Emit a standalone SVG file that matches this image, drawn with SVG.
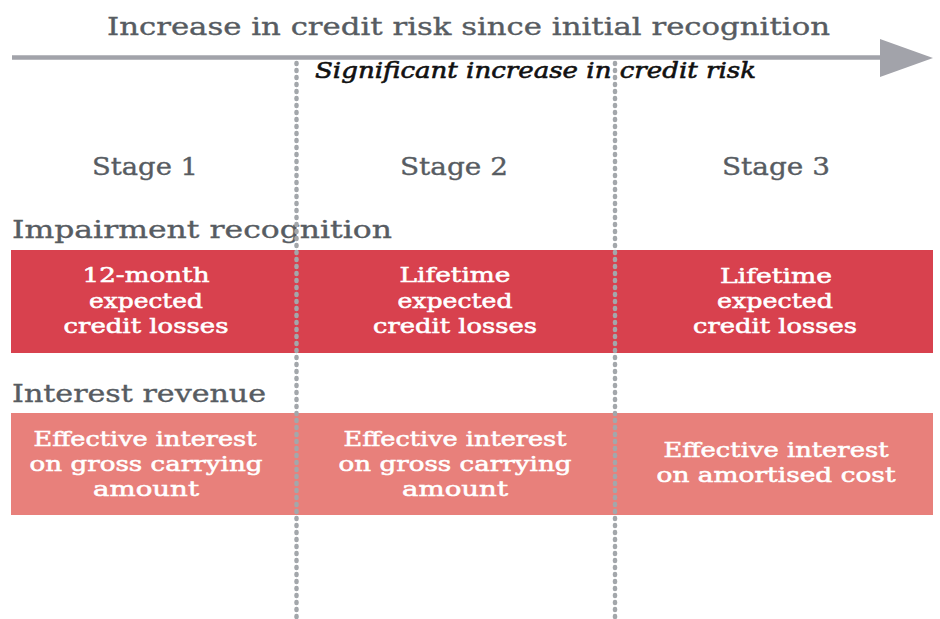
<svg xmlns="http://www.w3.org/2000/svg" width="940" height="619" viewBox="0 0 940 619">
<defs>
<style>
.t{font-family:"DejaVu Serif","Liberation Serif",serif;}
.gray{fill:#575c62;stroke:#575c62;stroke-width:0.35;font-size:24.5px;}
.stage{fill:#575c62;stroke:#575c62;stroke-width:0.35;font-size:25px;text-anchor:middle;}
.sig{fill:#111;stroke:#111;stroke-width:0.6;font-size:22px;font-style:italic;}
.w{fill:#fff;stroke:#fff;stroke-width:0.55;font-size:20.5px;text-anchor:middle;}
.red{fill:#d8414e;}
.pink{fill:#e8807b;}
.div{stroke:#a3a7ab;stroke-width:4.5;stroke-dasharray:1 6;stroke-linecap:round;fill:none;}
</style>
</defs>
<rect width="940" height="619" fill="#fff"/>
<g id="title">
<text class="t gray" x="107" y="35" textLength="723" lengthAdjust="spacingAndGlyphs">Increase in credit risk since initial recognition</text>
</g>
<g id="stage1-label"><text class="t stage" x="145" y="175" textLength="106" lengthAdjust="spacingAndGlyphs">Stage 1</text></g>
<g id="stage2-label"><text class="t stage" x="454" y="175" textLength="108" lengthAdjust="spacingAndGlyphs">Stage 2</text></g>
<g id="stage3-label"><text class="t stage" x="776" y="175" textLength="108" lengthAdjust="spacingAndGlyphs">Stage 3</text></g>
<g id="impairment-label"><text class="t gray" x="12" y="238" textLength="380" lengthAdjust="spacingAndGlyphs">Impairment recognition</text></g>
<g id="interest-label"><text class="t gray" x="12" y="402" textLength="254" lengthAdjust="spacingAndGlyphs">Interest revenue</text></g>
<g id="impairment-row">
<rect class="red" x="11" y="250" width="922" height="103"/>
<text class="t w" x="146" y="282" textLength="127" lengthAdjust="spacingAndGlyphs">12-month</text>
<text class="t w" x="146" y="308" textLength="114" lengthAdjust="spacingAndGlyphs">expected</text>
<text class="t w" x="146" y="333" textLength="165" lengthAdjust="spacingAndGlyphs">credit losses</text>
<text class="t w" x="455" y="282" textLength="111" lengthAdjust="spacingAndGlyphs">Lifetime</text>
<text class="t w" x="455" y="308" textLength="115" lengthAdjust="spacingAndGlyphs">expected</text>
<text class="t w" x="455" y="333" textLength="164" lengthAdjust="spacingAndGlyphs">credit losses</text>
<text class="t w" x="776" y="283" textLength="112" lengthAdjust="spacingAndGlyphs">Lifetime</text>
<text class="t w" x="775" y="308" textLength="116" lengthAdjust="spacingAndGlyphs">expected</text>
<text class="t w" x="775" y="333" textLength="164" lengthAdjust="spacingAndGlyphs">credit losses</text>
</g>
<g id="interest-row">
<rect class="pink" x="11" y="413" width="922" height="102"/>
<text class="t w" x="145" y="446" textLength="223" lengthAdjust="spacingAndGlyphs">Effective interest</text>
<text class="t w" x="146" y="471" textLength="233" lengthAdjust="spacingAndGlyphs">on gross carrying</text>
<text class="t w" x="146" y="496" textLength="106" lengthAdjust="spacingAndGlyphs">amount</text>
<text class="t w" x="455" y="446" textLength="223" lengthAdjust="spacingAndGlyphs">Effective interest</text>
<text class="t w" x="455" y="471" textLength="233" lengthAdjust="spacingAndGlyphs">on gross carrying</text>
<text class="t w" x="455" y="496" textLength="106" lengthAdjust="spacingAndGlyphs">amount</text>
<text class="t w" x="776" y="457" textLength="225" lengthAdjust="spacingAndGlyphs">Effective interest</text>
<text class="t w" x="776" y="482" textLength="239" lengthAdjust="spacingAndGlyphs">on amortised cost</text>
</g>
<g id="connectors">
<line x1="12" y1="57.5" x2="884" y2="57.5" stroke="#a2a3aa" stroke-width="4.5"/>
<polygon points="880,39 933,58 880,77" fill="#a2a3aa"/>
<line class="div" x1="296.5" y1="63" x2="296.5" y2="619"/>
<line class="div" x1="615" y1="63" x2="615" y2="619"/>
</g>
<g id="threshold-label">
<text class="t sig" x="315" y="78" textLength="441" lengthAdjust="spacingAndGlyphs">Significant increase in credit risk</text>
</g>
</svg>
